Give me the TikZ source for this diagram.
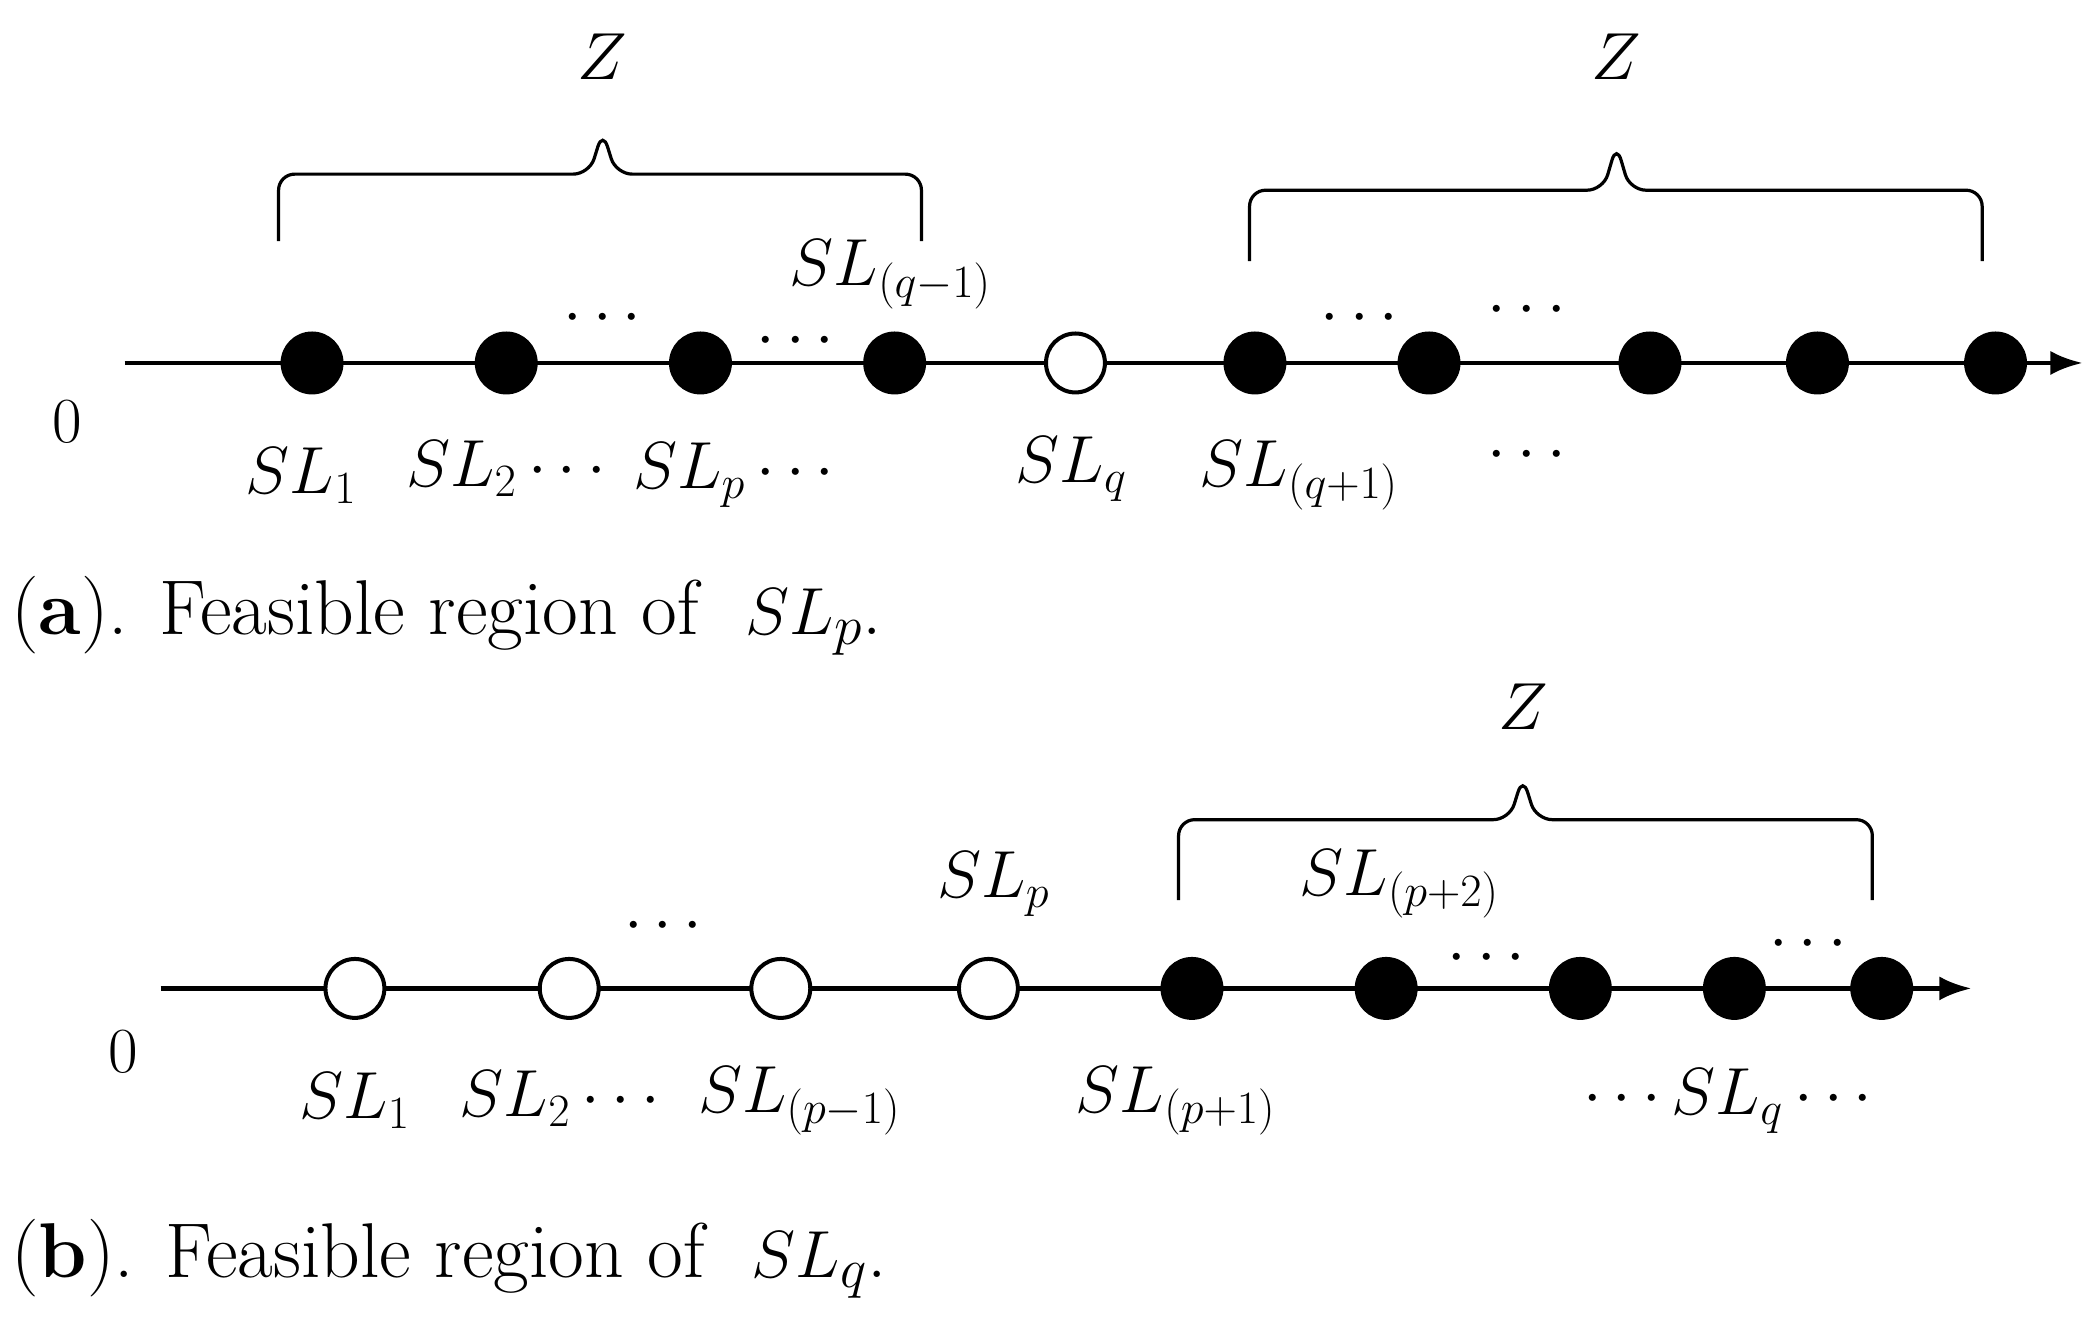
\documentclass[tikz,border=0pt]{standalone}
\usetikzlibrary{arrows.meta}
\begin{document}
\begin{tikzpicture}[x=0.5pt,y=-0.5pt,
  full/.style={circle,fill=black,draw=black,line width=1.5pt,minimum size=22pt,inner sep=0pt},
  hollow/.style={circle,fill=white,draw=black,line width=1.5pt,minimum size=22pt,inner sep=0pt},
  lab/.style={font=\fontsize{24}{28}\selectfont,inner sep=0pt},
  zlab/.style={font=\fontsize{30}{34}\selectfont,inner sep=0pt},
  captext/.style={font=\fontsize{29}{34}\selectfont,anchor=west,inner sep=0pt},
  axis/.style={line width=1.8pt,-{Latex[length=12pt,width=9pt]}},
  brace/.style={line width=1.2pt,rounded corners=6pt}]
\useasboundingbox (0,0) rectangle (1568,993);
% (a)
\coordinate (a0) at (93,271); \coordinate (a1) at (1555,271);
\draw[axis] (a0) -- (a1);
\foreach \x/\n in {233/1,378/2,523/3,668/4,937/6,1067/7,1232/8,1357/9,1490/10}
  \node[full] (ad\n) at (\x,271) {};
\node[hollow] (ad5) at (803,271) {};
\node[lab] (a0l) at (50,315) {0};
\node[lab] (al1) at (225,355) {$SL_1$};
\node[lab] (al2) at (378,350) {$SL_2\cdots$};
\node[lab] (al3) at (548,355) {$SL_p\cdots$};
\node[lab] (al5) at (800,350) {$SL_q$};
\node[lab] (al6) at (970,355) {$SL_{(q+1)}$};
\node[lab] (al7) at (1140,340) {$\cdots$};
\node[lab] (al4) at (665,205) {$SL_{(q-1)}$};
\node[lab] (ad1t) at (450,238) {$\cdots$};
\node[lab] (ad2t) at (594,255) {$\cdots$};
\node[lab] (ad3t) at (1015,238) {$\cdots$};
\node[lab] (ad4t) at (1140,232) {$\cdots$};
\draw[brace] (208,180) -- (208,130) -- (440,130) -- (450,98) -- (460,130) -- (688,130) -- (688,180);
\draw[brace] (933,195) -- (933,142) -- (1197,142) -- (1207,108) -- (1217,142) -- (1480,142) -- (1480,195);
\node[zlab] (az1) at (450,42) {$Z$};
\node[zlab] (az2) at (1207,42) {$Z$};
\node[captext] (acap) at (8,460) {(\textbf{a}). Feasible region of \ $SL_p$.};
% (b)
\coordinate (b0) at (120,738); \coordinate (b1) at (1472,738);
\draw[axis] (b0) -- (b1);
\foreach \x/\n in {265/1,425/2,583/3,738/4}
  \node[hollow] (bd\n) at (\x,738) {};
\foreach \x/\n in {890/5,1035/6,1180/7,1295/8,1405/9}
  \node[full] (bd\n) at (\x,738) {};
\node[lab] (b0l) at (92,785) {0};
\node[lab] (bl1) at (265,822) {$SL_1$};
\node[lab] (bl2) at (418,820) {$SL_2\cdots$};
\node[lab] (bl3) at (597,822) {$SL_{(p-1)}$};
\node[lab] (bl4) at (742,660) {$SL_p$};
\node[lab] (bl5) at (878,822) {$SL_{(p+1)}$};
\node[lab] (bl6) at (1290,822) {$\cdots SL_q\cdots$};
\node[lab] (bl7) at (1045,660) {$SL_{(p+2)}$};
\node[lab] (bt1) at (495,692) {$\cdots$};
\node[lab] (bt2) at (1110,716) {$\cdots$};
\node[lab] (bt3) at (1350,705) {$\cdots$};
\draw[brace] (880,672) -- (880,612) -- (1127,612) -- (1137,580) -- (1147,612) -- (1398,612) -- (1398,672);
\node[zlab] (bz) at (1137,528) {$Z$};
\node[captext] (bcap) at (8,940) {(\textbf{b}). Feasible region of \ $SL_q$.};
\end{tikzpicture}
\end{document}
